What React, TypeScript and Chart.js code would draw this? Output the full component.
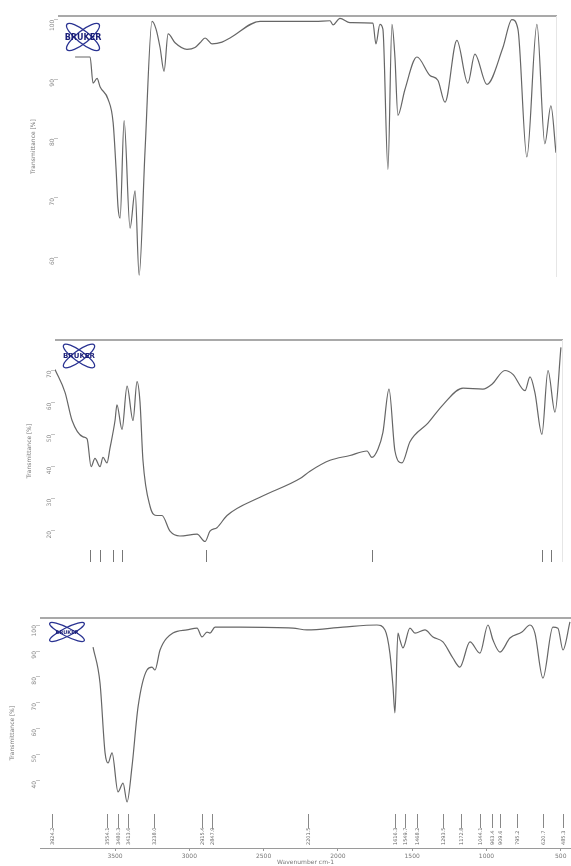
import React, { useEffect, useRef } from 'react';
import { Chart, registerables } from 'chart.js';
Chart.register(...registerables);

// ---------- Data (wavenumber cm-1 / transmittance %) ----------
const wn1 = [
  3769, 3668, 3648, 3621, 3601, 3547, 3513, 3493, 3480, 3466,
  3439, 3399, 3365, 3338, 3298, 3251, 3224, 3197, 3170, 3143,
  3096, 3016, 2962, 2928, 2894, 2847, 2780, 2726, 2524, 2154,
  2053, 2033, 1986, 1919, 1764, 1744, 1717, 1697, 1663, 1636,
  1616, 1596, 1549, 1468, 1380, 1327, 1279, 1199, 1125, 1078,
  997, 889, 829, 788, 728, 660, 607, 566, 532,
];
const tr1 = [
  93.7, 93.7, 89.3, 90.1, 88.7, 86.6, 82.7, 74.8, 68.5, 66.6,
  83.0, 64.9, 71.2, 57.0, 78.0, 99.7, 98.4, 95.3, 91.3, 97.6,
  96.1, 95.0, 95.3, 96.1, 96.9, 95.9, 96.2, 96.9, 99.7, 99.7,
  99.8, 99.1, 100.2, 99.5, 99.4, 95.9, 99.2, 98.4, 74.8, 99.2,
  93.7, 83.9, 88.2, 93.7, 90.6, 89.8, 86.1, 96.5, 89.3, 94.2,
  89.1, 95.3, 100.0, 98.4, 76.9, 99.2, 79.1, 85.5, 77.6,
];

const wn2 = [
  3904, 3836, 3789, 3715, 3688, 3661, 3635, 3601, 3581, 3554,
  3534, 3500, 3487, 3453, 3419, 3379, 3352, 3332, 3312, 3264,
  3217, 3184, 3130, 3063, 2948, 2894, 2861, 2814, 2746, 2524,
  2255, 2188, 2053, 1919, 1804, 1771, 1730, 1697, 1656, 1616,
  1569, 1515, 1394, 1293, 1158, 1024, 963, 876, 822, 741,
  707, 674, 627, 586, 539, 499,
];
const tr2 = [
  70.3, 63.1, 54.4, 49.3, 48.7, 40.0, 42.6, 40.0, 42.9, 41.2,
  45.8, 54.4, 59.3, 51.6, 65.1, 54.4, 66.5, 60.2, 42.0, 27.6,
  24.8, 24.8, 19.9, 18.4, 19.0, 16.7, 19.9, 21.0, 24.8, 30.5,
  36.3, 38.6, 42.0, 43.5, 44.9, 42.9, 45.5, 50.7, 64.2, 44.9,
  41.2, 47.8, 53.6, 59.3, 64.5, 64.2, 65.7, 70.0, 68.8, 63.7,
  68.0, 63.1, 50.1, 70.0, 57.0, 77.2,
];

const wn3 = [
  3648, 3601, 3567, 3547, 3520, 3480, 3446, 3419, 3386, 3345,
  3285, 3251, 3231, 3197, 3110, 3016, 2948, 2915, 2881, 2861,
  2827, 2659, 2302, 2208, 1966, 1737, 1683, 1650, 1629, 1616,
  1596, 1582, 1562, 1515, 1481, 1414, 1360, 1293, 1226, 1179,
  1111, 1044, 990, 956, 909, 842, 761, 707, 674, 620,
  553, 519, 485, 438,
];
const tr3 = [
  91.5, 77.7, 50.8, 46.9, 50.8, 35.8, 39.2, 31.9, 45.4, 68.5,
  82.7, 83.8, 82.7, 90.4, 96.9, 98.1, 98.8, 95.4, 97.3, 96.9,
  99.2, 99.2, 98.8, 98.1, 99.2, 100, 98.1, 89.2, 76.2, 66.2,
  96.9, 94.2, 91.2, 98.8, 96.9, 98.1, 95.4, 93.5, 87.3, 83.8,
  93.5, 89.2, 100, 94.2, 89.6, 95.0, 97.3, 100, 96.9, 79.6,
  99.2, 98.8, 90.4, 101.2,
];

const yTicks1 = [100, 90, 80, 70, 60];
const yTicks2 = [70, 60, 50, 40, 30, 20];
const yTicks3 = [100, 90, 80, 70, 60, 50, 40];
const xTicks = [3500, 3000, 2500, 2000, 1500, 1000, 500];

const peaks2 = [3668, 3601, 3513, 3453, 2888, 1771, 627, 566];
const peaks3 = [
  3924.2, 3554.1, 3480.3, 3413.6, 3238.0, 2915.4, 2847.9, 2201.5, 1616.3, 1549.7,
  1468.2, 1293.5, 1172.8, 1044.1, 963.4, 909.6, 795.2, 620.7, 485.3,
];

const FONT = '"DejaVu Sans", "Liberation Sans", sans-serif';

function drawLogo(ctx: CanvasRenderingContext2D, cx: number, cy: number, w: number, h: number) {
  ctx.save();
  ctx.translate(cx, cy);
  ctx.strokeStyle = '#2a3392';
  ctx.lineWidth = 1.3;
  const ang = Math.atan2(h, w) * 1.1;
  for (const a of [ang, -ang]) {
    ctx.beginPath();
    ctx.ellipse(0, 0, Math.hypot(w, h) * 0.42, Math.min(w, h) * 0.22, a, 0, Math.PI * 2);
    ctx.stroke();
  }
  ctx.fillStyle = '#1b1f78';
  ctx.font = `bold ${Math.round(Math.min(8, h * 0.28))}px ${FONT}`;
  ctx.textAlign = 'center';
  ctx.textBaseline = 'middle';
  ctx.fillText('BRUKER', 0, 0.5);
  ctx.restore();
}

const decorPlugin = {
  id: 'decor',
  afterDraw(chart: any, _args: any, opts: any) {
    const { ctx, chartArea: a } = chart;
    const xs = chart.scales.x;
    ctx.save();
    ctx.strokeStyle = '#8d8d8d';
    ctx.lineWidth = 1.4;
    ctx.beginPath();
    ctx.moveTo(a.left, a.top);
    ctx.lineTo(a.right, a.top);
    ctx.stroke();
    if (opts.rightLine) {
      ctx.strokeStyle = '#e6e6e6';
      ctx.lineWidth = 1;
      ctx.beginPath();
      ctx.moveTo(a.right - 0.5, a.top);
      ctx.lineTo(a.right - 0.5, a.bottom);
      ctx.stroke();
    }
    if (opts.logo) {
      const l = opts.logo;
      drawLogo(ctx, a.left + l.dx, a.top + l.dy, l.w, l.h);
    }
    if (opts.marks) {
      ctx.strokeStyle = '#777';
      ctx.lineWidth = 1;
      for (const v of opts.marks) {
        const px = Math.round(xs.getPixelForValue(v)) + 0.5;
        ctx.beginPath();
        ctx.moveTo(px, a.bottom - 12);
        ctx.lineTo(px, a.bottom);
        ctx.stroke();
      }
    }
    if (opts.peaks) {
      ctx.strokeStyle = '#888';
      ctx.fillStyle = '#666';
      ctx.lineWidth = 1;
      ctx.font = `5px ${FONT}`;
      ctx.textAlign = 'left';
      ctx.textBaseline = 'middle';
      for (const v of opts.peaks) {
        const px = Math.round(xs.getPixelForValue(v)) + 0.5;
        ctx.beginPath();
        ctx.moveTo(px, a.bottom - 34);
        ctx.lineTo(px, a.bottom - 20);
        ctx.stroke();
        ctx.save();
        ctx.translate(px, a.bottom - 3);
        ctx.rotate(-Math.PI / 2);
        ctx.fillText(v.toFixed(1), 0, 0);
        ctx.restore();
      }
    }
    ctx.restore();
  },
};

type PanelCfg = {
  top: number;
  h: number;
  wn: number[];
  tr: number[];
  xMin: number;
  xMax: number;
  yMin: number;
  yMax: number;
  yTicks: number[];
  yWidth: number;
  padding: { left: number; right: number; top: number; bottom: number };
  showX: boolean;
  decor: any;
};

function Panel({ cfg }: { cfg: PanelCfg }) {
  const ref = useRef<HTMLCanvasElement>(null);
  useEffect(() => {
    const pts = cfg.wn.map((w, i) => ({ x: w, y: cfg.tr[i] }));
    const chart = new Chart(ref.current as HTMLCanvasElement, {
      type: 'line',
      data: {
        datasets: [
          {
            data: pts,
            borderColor: '#666666',
            borderWidth: 1.2,
            pointRadius: 0,
            fill: false,
            cubicInterpolationMode: 'monotone',
          },
        ],
      },
      options: {
        animation: false,
        responsive: false,
        devicePixelRatio: 1,
        layout: { padding: cfg.padding },
        plugins: {
          legend: { display: false },
          tooltip: { enabled: false },
          // @ts-ignore
          decor: cfg.decor,
        },
        scales: {
          x: {
            type: 'linear',
            reverse: true,
            min: cfg.xMin,
            max: cfg.xMax,
            display: cfg.showX,
            afterBuildTicks: (s: any) => {
              s.ticks = xTicks.map((v) => ({ value: v }));
            },
            afterFit: (s: any) => {
              s.height = 18;
            },
            grid: { drawOnChartArea: false, tickLength: 3, color: '#999' },
            border: { display: true, color: '#9a9a9a' },
            ticks: {
              font: { size: 6, family: FONT },
              color: '#777',
              padding: 2,
              maxRotation: 0,
              autoSkip: false,
              callback: (v: any) => String(v),
            },
            title: {
              display: true,
              text: 'Wavenumber cm-1',
              font: { size: 6, family: FONT },
              color: '#777',
              padding: 0,
            },
          },
          y: {
            type: 'linear',
            min: cfg.yMin,
            max: cfg.yMax,
            afterBuildTicks: (s: any) => {
              s.ticks = cfg.yTicks.map((v) => ({ value: v }));
            },
            afterFit: (s: any) => {
              s.width = cfg.yWidth;
            },
            grid: { drawOnChartArea: false, tickLength: 4, color: '#c4c4c4' },
            border: { display: false },
            ticks: {
              font: { size: 6, family: FONT },
              color: '#888',
              minRotation: 90,
              maxRotation: 90,
              padding: 2,
              autoSkip: false,
              callback: (v: any) => String(v),
            },
            title: {
              display: true,
              text: 'Transmittance [%]',
              font: { size: 6, family: FONT },
              color: '#777',
              padding: 0,
            },
          },
        },
      },
      plugins: [decorPlugin],
    } as any);
    return () => chart.destroy();
  }, []);
  return (
    <canvas
      ref={ref}
      width={571}
      height={cfg.h}
      style={{ position: 'absolute', left: 0, top: cfg.top, width: 571, height: cfg.h }}
    />
  );
}

const panels: PanelCfg[] = [
  {
    top: 0,
    h: 305,
    wn: wn1,
    tr: tr1,
    xMin: 525,
    xMax: 3884,
    yMin: 56.7,
    yMax: 100.6,
    yTicks: yTicks1,
    yWidth: 28,
    padding: { left: 30, right: 14, top: 16, bottom: 10 },
    showX: false,
    decor: { rightLine: true, logo: { dx: 25, dy: 21, w: 40, h: 28 } },
  },
  {
    top: 330,
    h: 260,
    wn: wn2,
    tr: tr2,
    xMin: 485,
    xMax: 3904,
    yMin: 10.3,
    yMax: 79.5,
    yTicks: yTicks2,
    yWidth: 29,
    padding: { left: 26, right: 8, top: 10, bottom: 10 },
    showX: false,
    decor: { rightLine: true, logo: { dx: 24, dy: 16, w: 38, h: 24 }, marks: peaks2 },
  },
  {
    top: 600,
    h: 266,
    wn: wn3,
    tr: tr3,
    xMin: 431,
    xMax: 4005,
    yMin: 14.2,
    yMax: 102.7,
    yTicks: yTicks3,
    yWidth: 31,
    padding: { left: 9, right: 0, top: 18, bottom: 0 },
    showX: true,
    decor: { rightLine: false, logo: { dx: 27, dy: 14, w: 42, h: 19 }, peaks: peaks3 },
  },
];

export default function App() {
  return (
    <div
      style={{
        position: 'absolute',
        left: 0,
        top: 0,
        width: 571,
        height: 866,
        overflow: 'hidden',
        background: '#fff',
      }}
    >
      {panels.map((p, i) => (
        <Panel key={i} cfg={p} />
      ))}
    </div>
  );
}
